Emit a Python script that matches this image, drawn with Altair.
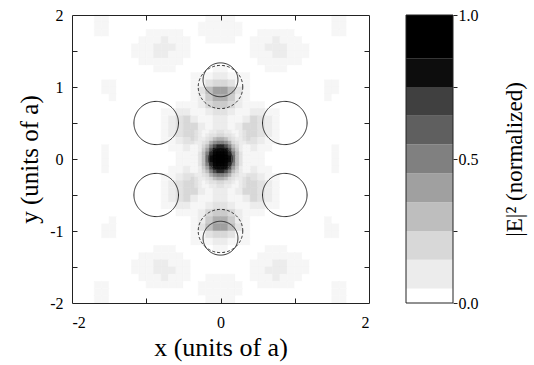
import altair as alt
import numpy as np
import pandas as pd

# ---------------- data ----------------
# intensity level code: index in LEVELS * 0.05  ->  |E|^2 (normalized)
LEVELS = "0123456789ABCDEFGHIJK"

# coarse map, 0.1 a cells, x from -2 to 2 (left->right), y from 2 to -2 (top->bottom)
coarse_rows = [
    "0001100000000000001111000000000000011000",
    "0001100000000000011111100000000000011000",
    "0001100000111110011111100111110000011000",
    "0000000001112111001111001112111000000000",
    "0000000011122211000000001122211100000000",
    "0000000011122111000000001112211100000000",
    "0000000001111110000000000111111000000000",
    "0000000000011100000110000011100000000000",
    "0000000000000000111221110000000000000000",
    "0000110000000000113443110000000000110000",
    "0000110000000000136886310000000000110000",
    "0000010000000000125775210000000000100000",
    "0000000000000011124554211100000000000000",
    "0000000000001122112332112211000000000000",
    "0000000000001234211221124321000000000000",
    "0000000000001234421221244321000000000000",
    "0000000000001234422332244321000000000000",
    "0000000000001123313663133211000000000000",
    "0000100000000112126EE6212110000000010000",
    "000010000000001112BKKB211100000000010000",
    "000010000000001112BKKB211100000000010000",
    "0000100000000112126EE6212110000000010000",
    "0000000000001123313663133211000000000000",
    "0000000000001234422332244321000000000000",
    "0000000000001234421221244321000000000000",
    "0000000000001234211221124321000000000000",
    "0000000000001122112332112211000000000000",
    "0000000000000011124554211100000000000000",
    "0000010000000000125775210000000000100000",
    "0000110000000000136886310000000000110000",
    "0000110000000000113443110000000000110000",
    "0000000000000000111221110000000000000000",
    "0000000000011100000110000011100000000000",
    "0000000001111110000000000111111000000000",
    "0000000011122111000000001112211100000000",
    "0000000011122211000000001122211100000000",
    "0000000001112111001111001112111000000000",
    "0001100000111110011111100111110000011000",
    "0001100000000000011111100000000000011000",
    "0001100000000000001111000000000000011000",
]

# fine map of the central spot, 0.05 a cells, x and y from -0.4 to 0.4
fine_rows = [
    "4321122332211234",
    "4321233443321234",
    "4322346776432234",
    "3223479AA9743223",
    "11246ADFFDA64211",
    "11258DGHHGD85211",
    "1136AFIJJIFA6311",
    "1136BGJKKJGB6311",
    "1136BGJKKJGB6311",
    "1136AFIJJIFA6311",
    "11258DGHHGD85211",
    "11246ADFFDA64211",
    "3223479AA9743223",
    "4322346776432234",
    "4321233443321234",
    "4321122332211234",
]

# rods (solid) and the original lattice rods (dashed), units of a
solid_cx = [0.0, 0.866, 0.866, -0.866, -0.866, 0.0, 0.0]
solid_cy = [0.0, 0.5, -0.5, 0.5, -0.5, 1.1, -1.1]
solid_r = [0.16, 0.3, 0.3, 0.3, 0.3, 0.235, 0.235]
dash_cx = [0.0, 0.0]
dash_cy = [1.0, -1.0]
dash_r = [0.3, 0.3]

# colour bar bands
bar_lo = [0.0, 0.05, 0.15, 0.25, 0.35, 0.45, 0.55, 0.65, 0.75, 0.85]
bar_hi = [0.05, 0.15, 0.25, 0.35, 0.45, 0.55, 0.65, 0.75, 0.85, 1.0]
bar_colors = ["#ffffff", "#ececec", "#d8d8d8", "#bebebe", "#a0a0a0",
              "#808080", "#5f5f5f", "#404040", "#0d0d0d", "#000000"]
value_stops = [0.0, 0.1, 0.2, 0.3, 0.4, 0.5, 0.6, 0.7, 0.8, 1.0]

x_ticks = [-1, 0, 1]
y_ticks = [-1.5, -1, -0.5, 0, 0.5, 1, 1.5]
bar_ticks = [0, 0.25, 0.5, 0.75, 1]

# ---------------- build tables ----------------
def grid_df(rows, x0, y0, step):
    recs = []
    for j, row in enumerate(rows):
        for i, ch in enumerate(row):
            xl = x0 + i * step
            yt = y0 - j * step
            recs.append(dict(x=xl, x2=xl + step, y=yt - step, y2=yt,
                             v=LEVELS.index(ch) * 0.05))
    return pd.DataFrame(recs)

coarse = grid_df(coarse_rows, -2.0, 2.0, 0.1)
fine = grid_df(fine_rows, -0.4, 0.4, 0.05)

def circles_df(cx, cy, rr):
    ang = np.linspace(0, 2 * np.pi, 121)
    recs = []
    for k, (a, b, r) in enumerate(zip(cx, cy, rr)):
        for n, t in enumerate(ang):
            recs.append(dict(cid=k, n=n, x=a + r * np.cos(t), y=b + r * np.sin(t)))
    return pd.DataFrame(recs)

solid = circles_df(solid_cx, solid_cy, solid_r)
dashed = circles_df(dash_cx, dash_cy, dash_r)
bar_df = pd.DataFrame({"lo": bar_lo, "hi": bar_hi, "c": bar_colors})
frame_df = pd.DataFrame({"lo": [0.0], "hi": [1.0]})

# ---------------- chart ----------------
FONT = "Liberation Serif"
W, H = 297, 288
xs = alt.Scale(domain=[-2, 2], nice=False, zero=False)
ys = alt.Scale(domain=[-2, 2], nice=False, zero=False)
heat = alt.Scale(domain=value_stops, range=bar_colors, interpolate="rgb")

def tick_axis(orient, offset, values):
    return alt.Axis(orient=orient, offset=offset, values=values, labels=False,
                    domain=True, domainColor="#222", domainWidth=1,
                    grid=False, ticks=True, tickSize=5,
                    tickColor="#222", tickWidth=1, title="", zindex=2)

base_heat = dict(
    color=alt.Color("v:Q", scale=heat, legend=None),
    stroke=alt.Stroke("v:Q", scale=heat, legend=None),
)

l1 = alt.Chart(coarse).mark_rect(strokeWidth=0.6).encode(
    x=alt.X("x:Q", scale=xs, axis=alt.Axis(
        values=[-2, 0, 2], ticks=False, tickSize=0, domain=False, grid=False,
        labelPadding=11, labelFontSize=16, labelFont=FONT, labelColor="black",
        labelExpr="'' + datum.value",
        title="x (units of a)", titleFont=FONT, titleFontSize=26,
        titleFontWeight="normal", titleColor="black",
        titleBaseline="top", titleY=31)),
    x2="x2",
    y=alt.Y("y:Q", scale=ys, axis=alt.Axis(
        values=[-2, -1, 0, 1, 2], ticks=False, tickSize=0, domain=False, grid=False,
        labelPadding=9, labelFontSize=16, labelFont=FONT, labelColor="black",
        labelExpr="'' + datum.value",
        title="y (units of a)", titleFont=FONT, titleFontSize=25,
        titleFontWeight="normal", titleColor="black",
        titleBaseline="middle", titleX=-43)),
    y2="y2",
    **base_heat,
)

l2 = alt.Chart(fine).mark_rect(strokeWidth=0.4).encode(
    x=alt.X("x:Q", scale=xs, axis=tick_axis("top", -H, x_ticks)),
    x2="x2",
    y=alt.Y("y:Q", scale=ys, axis=tick_axis("right", -W, y_ticks)),
    y2="y2",
    **base_heat,
)

l3 = alt.Chart(solid).mark_line(color="#2a2a2a", strokeWidth=1).encode(
    x=alt.X("x:Q", scale=xs, axis=tick_axis("bottom", -H, x_ticks)),
    y=alt.Y("y:Q", scale=ys, axis=tick_axis("left", -W, y_ticks)),
    detail="cid:N",
    order="n:Q",
)

l4 = alt.Chart(dashed).mark_line(color="#2a2a2a", strokeWidth=1, strokeDash=[3, 2]).encode(
    x=alt.X("x:Q", scale=xs, axis=None),
    y=alt.Y("y:Q", scale=ys, axis=None),
    detail="cid:N",
    order="n:Q",
)

main = alt.layer(l1, l2, l3, l4).resolve_axis(
    x="independent", y="independent"
).properties(width=W, height=H)

bar_y = alt.Scale(domain=[0, 1], nice=False, zero=False)
bar_axis = alt.Axis(
    orient="right", values=bar_ticks,
    labelExpr="datum.value == 0.25 || datum.value == 0.75 ? '' : format(datum.value, '.1f')",
    tickSize=4, tickColor="#222", tickWidth=1, domain=False, grid=False,
    labelPadding=1, labelFontSize=16, labelFont=FONT, labelColor="black",
    title="|E|² (normalized)", titleFont=FONT, titleFontSize=23,
    titleFontWeight="normal", titleColor="black",
    titleAngle=270, titleBaseline="middle", titleAlign="center",
    titleX=61, titleY=144, zindex=2,
)

bar_bands = alt.Chart(bar_df).mark_rect().encode(
    x=alt.value(0),
    x2=alt.value("width"),
    y=alt.Y("lo:Q", scale=bar_y, axis=bar_axis),
    y2="hi",
    color=alt.Color("c:N", scale=None),
)

bar_frame = alt.Chart(frame_df).mark_rect(fillOpacity=0, stroke="#222", strokeWidth=1).encode(
    x=alt.value(0),
    x2=alt.value("width"),
    y=alt.Y("lo:Q", scale=bar_y, axis=bar_axis),
    y2="hi",
)

bar = alt.layer(bar_bands, bar_frame).properties(width=47, height=H)

chart = alt.hconcat(main, bar, spacing=35).properties(
    padding={"left": 17, "top": 7, "right": 2, "bottom": 2},
    background="white",
).configure_view(stroke=None)

chart.save("out.html", embed_options={"renderer": "svg", "actions": False})
